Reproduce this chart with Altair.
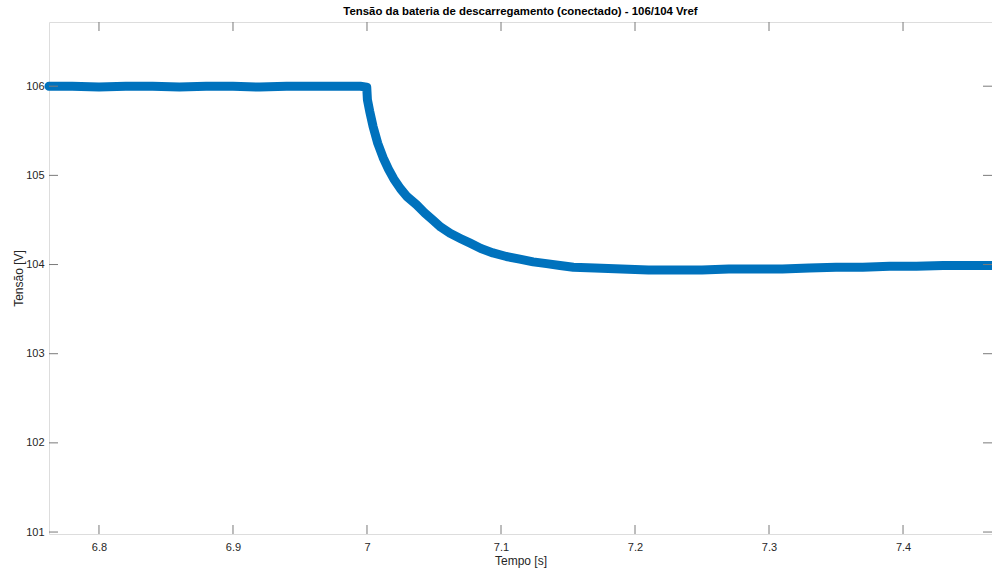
import altair as alt
import pandas as pd

# Time [s] and voltage [V]
t_vals = [6.7627, 6.78, 6.80, 6.82, 6.84, 6.86, 6.88, 6.90, 6.92, 6.94, 6.96, 6.98, 6.995, 6.9998,
          7.0003, 7.002, 7.0045, 7.008, 7.012, 7.016, 7.020, 7.025, 7.030, 7.037, 7.043, 7.049,
          7.055, 7.062, 7.070, 7.077, 7.085, 7.094, 7.104, 7.114, 7.124, 7.134, 7.144, 7.154,
          7.17, 7.19, 7.21, 7.23, 7.25, 7.27, 7.29, 7.31, 7.33, 7.35, 7.37, 7.39, 7.41, 7.43,
          7.45, 7.4664]
v_vals = [106.00, 106.00, 105.99, 106.00, 106.00, 105.99, 106.00, 106.00, 105.99, 106.00, 106.00,
          106.00, 106.00, 105.99,
          105.85, 105.72, 105.55, 105.36, 105.20, 105.07, 104.96, 104.85, 104.76, 104.67, 104.58,
          104.50, 104.42, 104.35, 104.29, 104.24, 104.18, 104.13, 104.09, 104.06, 104.03, 104.01,
          103.99, 103.97, 103.96, 103.95, 103.94, 103.94, 103.94, 103.95, 103.95, 103.95, 103.96,
          103.97, 103.97, 103.98, 103.98, 103.99, 103.99, 103.99]

x_ticks = [6.8, 6.9, 7.0, 7.1, 7.2, 7.3, 7.4]
y_ticks = [101, 102, 103, 104, 105, 106]

W, H = 943, 512
AX = "#262626"
FONT = "Liberation Sans"

df = pd.DataFrame({"t": t_vals, "v": v_vals})
xt = pd.DataFrame({"t": x_ticks})
yt = pd.DataFrame({"v": y_ticks})

xscale = alt.Scale(domain=[6.7627, 7.4664], nice=False, zero=False)
yscale = alt.Scale(domain=[100.978, 106.72], nice=False, zero=False)

xaxis = alt.Axis(values=x_ticks, format=".1~f", ticks=False, domain=False, grid=False,
                 labelPadding=7, labelFontSize=11, labelColor=AX, labelFont=FONT,
                 titleFontSize=12, titleFontWeight="normal", titleColor=AX, titleFont=FONT,
                 titlePadding=3)
yaxis = alt.Axis(values=y_ticks, format="d", ticks=False, domain=False, grid=False,
                 labelPadding=5, labelFontSize=11, labelColor=AX, labelFont=FONT,
                 titleFontSize=12, titleFontWeight="normal", titleColor=AX, titleFont=FONT,
                 titlePadding=0)

X = lambda: alt.X("t:Q", scale=xscale, axis=xaxis, title="Tempo [s]")
Y = lambda: alt.Y("v:Q", scale=yscale, axis=yaxis, title="Tensão [V]")

line = alt.Chart(df).mark_line(color="#0072BD", strokeWidth=9, strokeCap="round",
                               strokeJoin="round").encode(x=X(), y=Y())

tick_col = "#7a7a7a"
bottom_ticks = alt.Chart(xt).mark_rule(color=tick_col, strokeWidth=1).encode(
    x=X(), y=alt.value(H), y2=alt.value(H - 9))
top_ticks = alt.Chart(xt).mark_rule(color=tick_col, strokeWidth=1).encode(
    x=X(), y=alt.value(0), y2=alt.value(9))
left_ticks = alt.Chart(yt).mark_rule(color=tick_col, strokeWidth=1).encode(
    y=Y(), x=alt.value(0), x2=alt.value(9))
right_ticks = alt.Chart(yt).mark_rule(color=tick_col, strokeWidth=1).encode(
    y=Y(), x=alt.value(W), x2=alt.value(W - 9))

chart = alt.layer(line, bottom_ticks, top_ticks, left_ticks, right_ticks).properties(
    width=W, height=H,
    title=alt.TitleParams("Tensão da bateria de descarregamento (conectado) - 106/104 Vref",
                          fontSize=11.4, fontWeight="bold", color="#000000", font=FONT,
                          anchor="middle", offset=4),
    autosize=alt.AutoSizeParams(type="none"),
    padding={"left": 49, "top": 22, "right": 0, "bottom": 36},
).configure_view(stroke=tick_col, strokeWidth=1).configure(background="white")

chart.save("out.html", embed_options={"renderer": "svg", "actions": False})
